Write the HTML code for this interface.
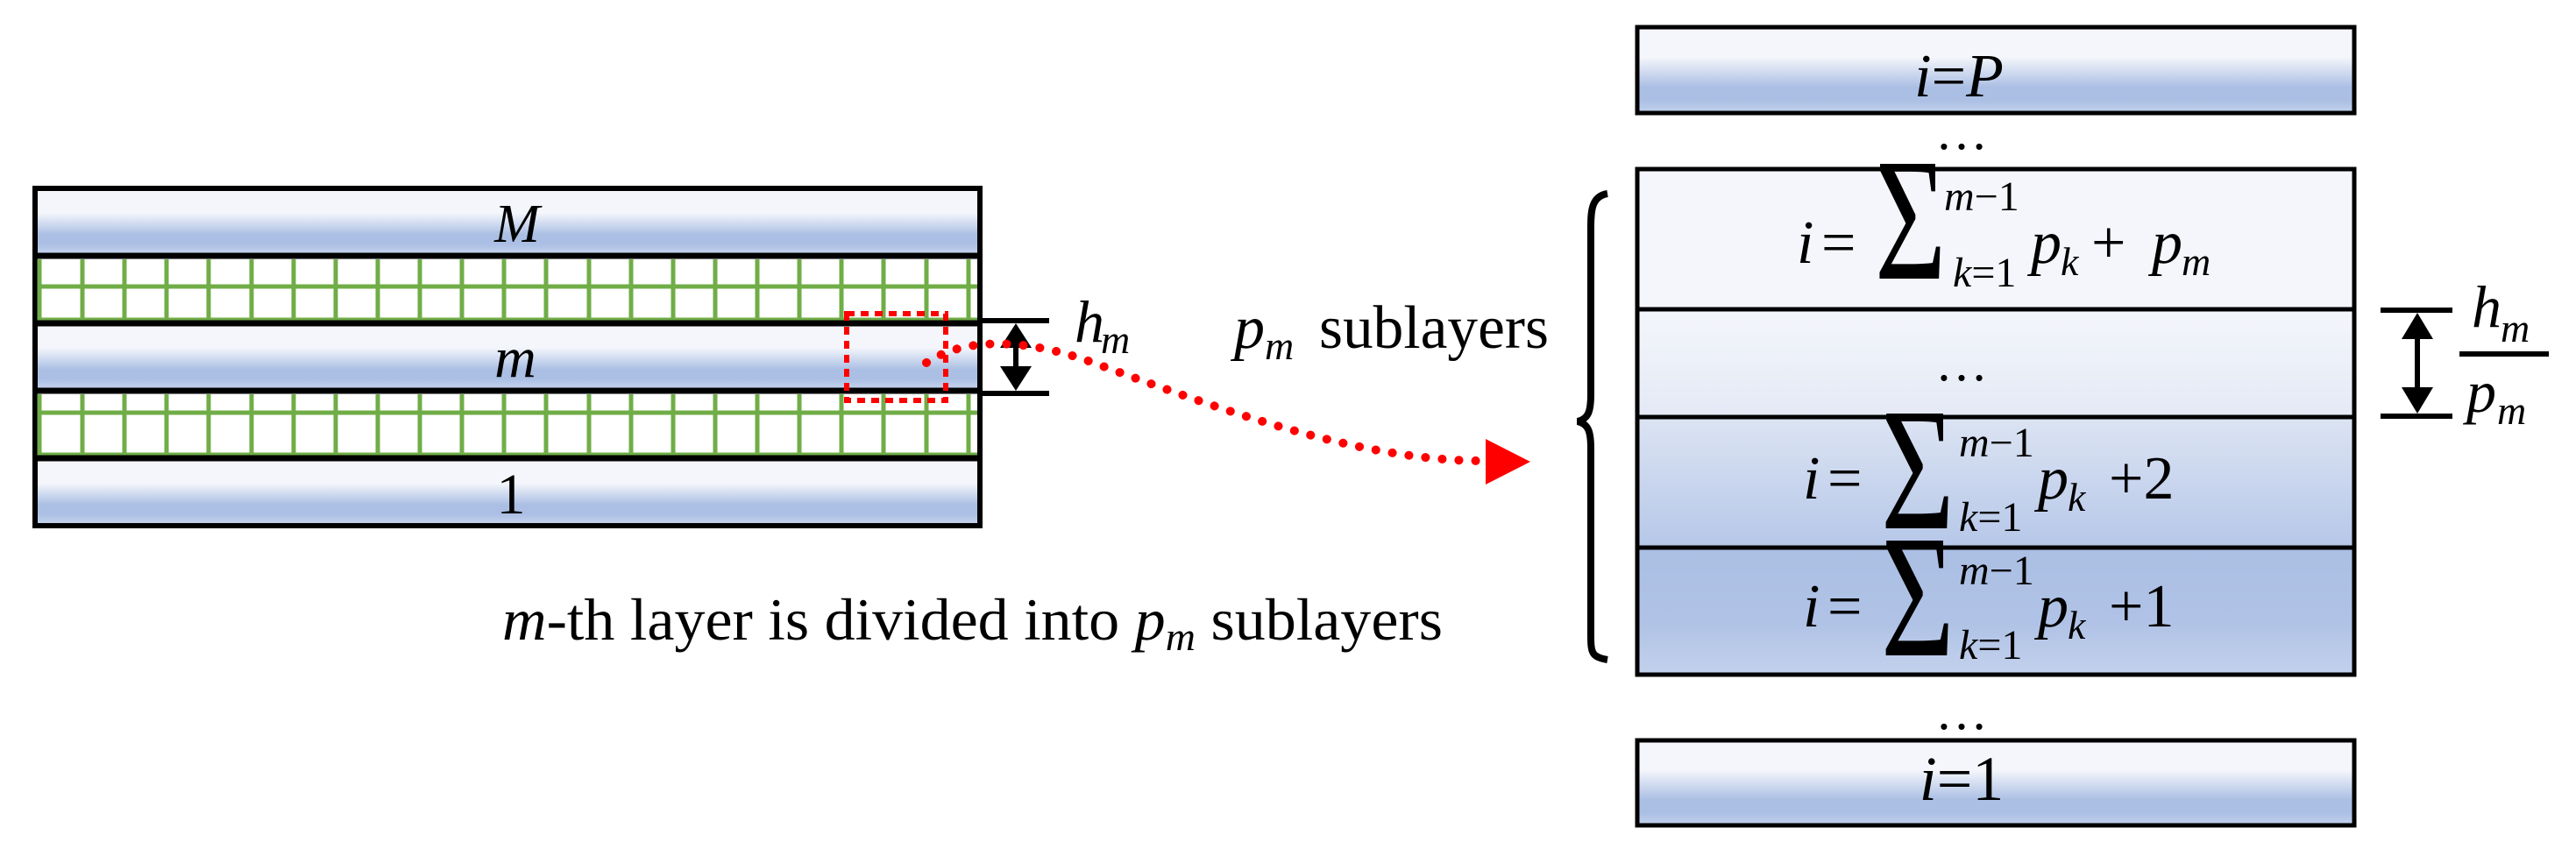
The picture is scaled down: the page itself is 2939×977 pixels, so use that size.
<!DOCTYPE html>
<html><head><meta charset="utf-8"><style>
html,body{margin:0;padding:0;background:#fff;}
svg{display:block;font-family:"Liberation Serif","DejaVu Serif","Noto Serif CJK SC",serif;}
svg text{font-family:"Liberation Serif","DejaVu Serif","Noto Serif CJK SC",serif;fill:#000;}
.it{font-style:italic;}
</style></head><body>
<svg width="2939" height="977" viewBox="0 0 2939 977" xmlns="http://www.w3.org/2000/svg">
<defs>
<linearGradient id="bar" x1="0" y1="0" x2="0" y2="1">
<stop offset="0" stop-color="#f4f6fb"/><stop offset="0.35" stop-color="#f4f6fb"/>
<stop offset="0.7" stop-color="#abbfe4"/><stop offset="0.85" stop-color="#abbfe4"/>
<stop offset="1" stop-color="#c3d1ec"/></linearGradient>
<linearGradient id="r2" x1="0" y1="0" x2="0" y2="1"><stop offset="0" stop-color="#f4f6fb"/><stop offset="1" stop-color="#e4e9f5"/></linearGradient>
<linearGradient id="r3" x1="0" y1="0" x2="0" y2="1"><stop offset="0" stop-color="#dce4f3"/><stop offset="1" stop-color="#b6c7e8"/></linearGradient>
<linearGradient id="r4" x1="0" y1="0" x2="0" y2="1"><stop offset="0" stop-color="#abbfe4"/><stop offset="0.6" stop-color="#b0c3e6"/><stop offset="1" stop-color="#c3d1ec"/></linearGradient>
</defs>

<rect x="40" y="215" width="1078" height="385" fill="#fff" stroke="#000" stroke-width="6"/>
<rect x="43" y="218" width="1072" height="71" fill="url(#bar)"/>
<rect x="43" y="372" width="1072" height="71" fill="url(#bar)"/>
<rect x="43" y="527" width="1072" height="70" fill="url(#bar)"/>
<g stroke="#70ad47" stroke-width="5">
<line x1="45" y1="296" x2="45" y2="366"/><line x1="45" y1="450" x2="45" y2="520"/>
<line x1="43" y1="327" x2="1115" y2="327"/>
<line x1="43" y1="471" x2="1115" y2="471"/>
<line x1="43" y1="364" x2="1115" y2="364" stroke-width="3"/>
<line x1="43" y1="518" x2="1115" y2="518" stroke-width="3"/>
</g>
<g stroke="#70ad47" stroke-width="5">
<path d="M94 296V366M142 296V366M190 296V366M238 296V366M287 296V366M335 296V366M383 296V366M431 296V366M479 296V366M527 296V366M575 296V366M623 296V366M672 296V366M720 296V366M768 296V366M816 296V366M864 296V366M912 296V366M960 296V366M1008 296V366M1057 296V366M1105 296V366"/>
<path d="M94 450V520M142 450V520M190 450V520M238 450V520M287 450V520M335 450V520M383 450V520M431 450V520M479 450V520M527 450V520M575 450V520M623 450V520M672 450V520M720 450V520M768 450V520M816 450V520M864 450V520M912 450V520M960 450V520M1008 450V520M1057 450V520M1105 450V520"/>
</g>
<g stroke="#000" stroke-width="7">
<line x1="40" y1="292" x2="1118" y2="292"/><line x1="40" y1="369" x2="1118" y2="369"/>
<line x1="40" y1="446" x2="1118" y2="446"/><line x1="40" y1="523" x2="1118" y2="523"/>
</g>
<text x="590" y="276" class="it" font-size="62" text-anchor="middle">M</text>
<text x="588" y="430" class="it" font-size="66" text-anchor="middle">m</text>
<text x="583" y="586" font-size="66" text-anchor="middle">1</text>

<rect x="966" y="358" width="113" height="99" fill="none" stroke="#f00" stroke-width="6" stroke-dasharray="9,7"/>

<g stroke="#000" stroke-width="6"><line x1="1120" y1="366" x2="1197" y2="366"/><line x1="1120" y1="449" x2="1197" y2="449"/><line x1="1159" y1="385" x2="1159" y2="430"/></g>
<polygon points="1159,369 1141,397 1177,397" fill="#000"/>
<polygon points="1159,446 1141,418 1177,418" fill="#000"/>
<text x="1226" y="390" class="it" font-size="68">h</text>
<text x="1256" y="403" class="it" font-size="46">m</text>

<path d="M1057,414 C1100,385 1170,385 1250,415 C1400,470 1550,525 1690,526" fill="none" stroke="#f00" stroke-width="10" stroke-linecap="round" stroke-dasharray="0.1,19"/>
<polygon points="1695,501 1746,527 1695,553" fill="#f00"/>

<text x="1408" y="397" class="it" font-size="70">p</text>
<text x="1443" y="410" class="it" font-size="46">m</text>
<text x="1505" y="397" font-size="70" textLength="262" lengthAdjust="spacingAndGlyphs">sublayers</text>

<text x="573" y="730" font-size="68" textLength="1073" lengthAdjust="spacingAndGlyphs"><tspan class="it">m</tspan>-th layer is divided into <tspan class="it">p</tspan><tspan class="it" font-size="46" dy="12">m</tspan><tspan dy="-12"> sublayers</tspan></text>

<rect x="1868" y="31" width="818" height="98" fill="url(#bar)" stroke="#000" stroke-width="5"/>
<text x="2235" y="110" font-size="70" text-anchor="middle"><tspan class="it">i</tspan>=<tspan class="it">P</tspan></text>
<text x="2238" y="170" font-size="60" text-anchor="middle">…</text>

<rect x="1868" y="193" width="818" height="160" fill="#f4f6fb"/>
<rect x="1868" y="353" width="818" height="123" fill="url(#r2)"/>
<rect x="1868" y="476" width="818" height="149" fill="url(#r3)"/>
<rect x="1868" y="625" width="818" height="145" fill="url(#r4)"/>
<rect x="1868" y="193" width="818" height="577" fill="none" stroke="#000" stroke-width="5"/>
<g stroke="#000" stroke-width="5"><line x1="1868" y1="353" x2="2686" y2="353"/><line x1="1868" y1="476" x2="2686" y2="476"/><line x1="1868" y1="625" x2="2686" y2="625"/></g>

<g>
<text x="2050" y="300" class="it" font-size="70">i</text>
<text x="2078" y="300" font-size="70">=</text>
<text transform="translate(2139,318) scale(0.7,1)" font-size="200">Σ</text>
<text x="2218" y="240" class="it" font-size="48">m<tspan font-style="normal">−1</tspan></text>
<text x="2228" y="327" class="it" font-size="48">k<tspan font-style="normal">=1</tspan></text>
<text x="2317" y="300" class="it" font-size="70">p</text><text x="2351" y="314" class="it" font-size="46">k</text>
<text x="2386" y="300" font-size="70">+</text>
<text x="2455" y="300" class="it" font-size="70">p</text><text x="2489" y="314" class="it" font-size="46">m</text>
</g>
<text x="2238" y="434" font-size="60" text-anchor="middle">…</text>
<g>
<text x="2057" y="569" class="it" font-size="70">i</text>
<text x="2085" y="569" font-size="70">=</text>
<text transform="translate(2146,603) scale(0.72,1)" font-size="200">Σ</text>
<text x="2235" y="521" class="it" font-size="48">m<tspan font-style="normal">−1</tspan></text>
<text x="2235" y="606" class="it" font-size="48">k<tspan font-style="normal">=1</tspan></text>
<text x="2325" y="569" class="it" font-size="70">p</text><text x="2359" y="583" class="it" font-size="46">k</text>
<text x="2406" y="569" font-size="70">+2</text>
</g>
<g>
<text x="2057" y="715" class="it" font-size="70">i</text>
<text x="2085" y="715" font-size="70">=</text>
<text transform="translate(2146,748) scale(0.72,1)" font-size="200">Σ</text>
<text x="2235" y="667" class="it" font-size="48">m<tspan font-style="normal">−1</tspan></text>
<text x="2235" y="752" class="it" font-size="48">k<tspan font-style="normal">=1</tspan></text>
<text x="2325" y="715" class="it" font-size="70">p</text><text x="2359" y="729" class="it" font-size="46">k</text>
<text x="2406" y="715" font-size="70">+1</text>
</g>

<text x="2238" y="832" font-size="60" text-anchor="middle">…</text>
<rect x="1868" y="845" width="818" height="97" fill="url(#bar)" stroke="#000" stroke-width="5"/>
<text x="2238" y="913" font-size="72" text-anchor="middle"><tspan class="it">i</tspan>=1</text>

<path d="M1834,221 C1816,224 1815,240 1815,260 L1815,450 C1815,470 1812,478 1800,481 C1812,484 1815,492 1815,512 L1815,725 C1815,745 1816,750 1834,753" fill="none" stroke="#000" stroke-width="8"/>

<g stroke="#000" stroke-width="6"><line x1="2716" y1="354" x2="2798" y2="354"/><line x1="2716" y1="475" x2="2798" y2="475"/><line x1="2758" y1="380" x2="2758" y2="445"/><line x1="2806" y1="404" x2="2908" y2="404"/></g>
<polygon points="2758,357 2740,387 2776,387" fill="#000"/>
<polygon points="2758,472 2740,442 2776,442" fill="#000"/>
<text x="2820" y="373" class="it" font-size="68">h</text><text x="2853" y="390" class="it" font-size="46">m</text>
<text x="2814" y="470" class="it" font-size="68">p</text><text x="2849" y="484" class="it" font-size="46">m</text>
</svg>
</body></html>
